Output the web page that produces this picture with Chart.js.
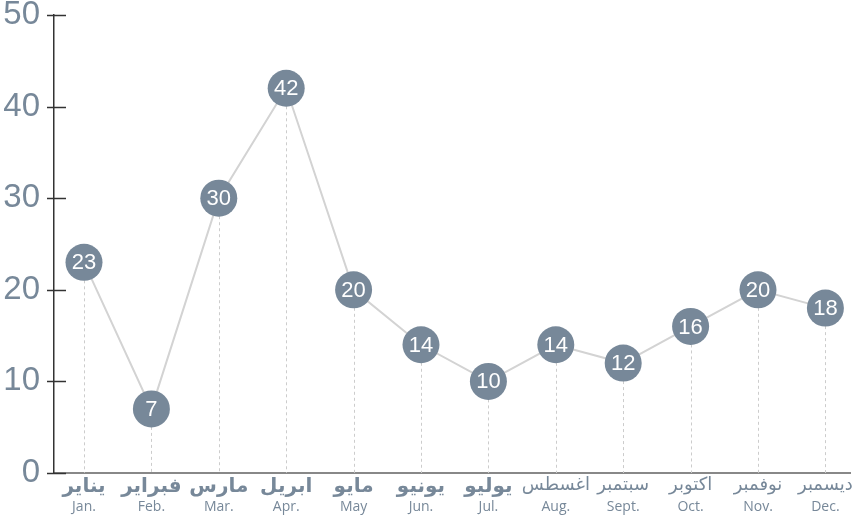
<!DOCTYPE html>
<html><head><meta charset="utf-8">
<script src="https://cdn.jsdelivr.net/npm/chart.js@4"></script>
<style>html,body{margin:0;padding:0;background:#fff}#wrap{width:853px;height:520px}</style>
</head><body><div id="wrap"><canvas id="c"></canvas></div>
<script>
const monthsAr = ['يناير','فبراير','مارس','ابريل','مايو','يونيو','يوليو','اغسطس','سبتمبر','اكتوبر','نوفمبر','ديسمبر'];
const monthsEn = ['Jan.','Feb.','Mar.','Apr.','May','Jun.','Jul.','Aug.','Sept.','Oct.','Nov.','Dec.'];
const values = [23,7,30,42,20,14,10,14,12,16,20,18];
const yTicks = [0,10,20,30,40,50];

const SLATE = '#778899';
const points = values.map((v,i)=>({x:i,y:v}));
const monthTicks = s => { s.ticks = monthsEn.map((_,i)=>({value:i})); };
const noSidePad = s => { s.paddingLeft = 0; s.paddingRight = 0; };

const deco = {
  id:'deco',
  beforeDatasetsDraw(chart){
    const {ctx, scales:{x,y}} = chart;
    ctx.save();
    ctx.strokeStyle='#cccccc'; ctx.lineWidth=1; ctx.setLineDash([3,3]);
    values.forEach((v,i)=>{
      const px=Math.round(x.getPixelForValue(i))+0.5;
      ctx.beginPath(); ctx.moveTo(px,y.getPixelForValue(v)); ctx.lineTo(px,y.getPixelForValue(0)); ctx.stroke();
    });
    ctx.restore();
  },
  afterDatasetsDraw(chart){
    const {ctx, scales:{x,y}} = chart;
    ctx.save();
    ctx.fillStyle='#ffffff'; ctx.font='22px "Liberation Sans", Arial, sans-serif';
    ctx.textAlign='center'; ctx.textBaseline='middle';
    values.forEach((v,i)=>{
      ctx.fillText(String(v), x.getPixelForValue(i), y.getPixelForValue(v)+1);
    });
    ctx.restore();
  },
  afterDraw(chart){
    const {ctx, scales:{y}, chartArea} = chart;
    ctx.save(); ctx.strokeStyle='#333333'; ctx.lineWidth=1.5;
    yTicks.forEach(t=>{
      const py=Math.round(y.getPixelForValue(t))+0.5;
      ctx.beginPath(); ctx.moveTo(chartArea.left-7,py); ctx.lineTo(chartArea.left+12,py); ctx.stroke();
    });
    ctx.restore();
  }
};

new Chart(document.getElementById('c'), {
  type:'line',
  data:{ datasets:[{
    data: points,
    borderColor:'#d3d3d3', borderWidth:2,
    pointRadius:18.5, pointHoverRadius:18.5,
    pointBackgroundColor:SLATE, pointBorderWidth:0,
    tension:0, clip:false
  }]},
  options:{
    responsive:true, maintainAspectRatio:false, animation:false,
    layout:{autoPadding:false, padding:{top:0,right:3,left:0,bottom:0}},
    plugins:{legend:{display:false}, tooltip:{enabled:false}},
    scales:{
      x:{
        type:'linear', position:'bottom', min:-0.445, max:11.365,
        afterBuildTicks: monthTicks,
        afterFit: s => { s.height = 26; noSidePad(s); },
        grid:{display:false, drawTicks:false},
        border:{display:true, color:'#888888', width:2},
        ticks:{
          autoSkip:false, maxRotation:0, padding:2, color:SLATE,
          font: c => (c.index<7
            ? {family:'"DejaVu Sans", sans-serif', size:20, weight:'bold'}
            : {family:'"DejaVu Sans", sans-serif', size:18, weight:'normal'}),
          callback: v => monthsAr[v]
        }
      },
      x2:{
        type:'linear', position:'bottom', min:-0.445, max:11.365,
        afterBuildTicks: monthTicks,
        afterFit: s => { s.height = 21; noSidePad(s); },
        grid:{display:false, drawTicks:false},
        border:{display:false},
        ticks:{
          autoSkip:false, maxRotation:0, padding:0, color:SLATE,
          font:{family:'"Open Sans", sans-serif', size:14},
          callback: v => monthsEn[v]
        }
      },
      y:{
        min:0, max:50,
        afterBuildTicks: s => { s.ticks = yTicks.map(v=>({value:v})); },
        afterFit: s => { s.width = 54; s.paddingTop = 15; s.paddingBottom = 0; },
        grid:{drawOnChartArea:false, drawTicks:false},
        border:{display:true, color:'#333333', width:1.5},
        ticks:{padding:14, color:SLATE, font:{family:'"Liberation Sans", Arial, sans-serif', size:33, lineHeight:1.0}}
      }
    }
  },
  plugins:[deco]
});
</script>
</body></html>
